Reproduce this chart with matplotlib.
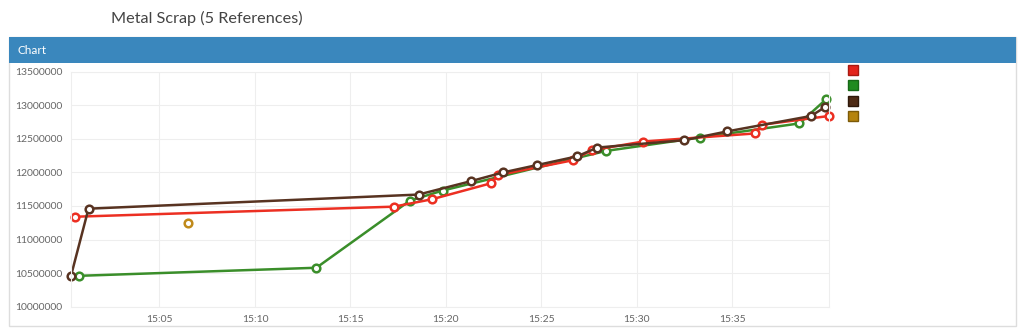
import pandas as pd
import matplotlib
matplotlib.use('Agg')
import matplotlib.pyplot as plt
import matplotlib.dates as mdates
from matplotlib.patches import Rectangle
from matplotlib.lines import Line2D

plt.rcParams['font.family'] = ['Lato', 'DejaVu Sans']

# series (time of day, value)
red_times = ['15:00:35', '15:17:17', '15:19:16', '15:22:23', '15:22:44', '15:26:38',
             '15:27:38', '15:30:20', '15:36:10', '15:36:33', '15:40:03']
red_values = [11340000, 11490000, 11600000, 11840000, 11960000, 12180000,
              12330000, 12460000, 12580000, 12710000, 12840000]

green_times = ['15:00:48', '15:13:13', '15:18:07', '15:19:50', '15:28:23', '15:33:19',
               '15:38:31', '15:39:55']
green_values = [10460000, 10580000, 11580000, 11730000, 12320000, 12520000,
                12730000, 13090000]

brown_times = ['15:00:22', '15:01:17', '15:18:34', '15:21:19', '15:23:00', '15:24:47',
               '15:26:53', '15:27:56', '15:32:29', '15:34:43', '15:39:07', '15:39:51']
brown_values = [10460000, 11460000, 11670000, 11870000, 12000000, 12110000,
                12240000, 12370000, 12480000, 12610000, 12840000, 12970000]

gold_times = ['15:06:29']
gold_values = [11250000]

y_ticks = [10000000, 10500000, 11000000, 11500000, 12000000, 12500000, 13000000, 13500000]
x_ticks = ['15:05', '15:10', '15:15', '15:20', '15:25', '15:30', '15:35']

series = [
    (green_times, green_values, '#3a8e2a', '#1f8b1f', '#166816'),
    (red_times, red_values, '#ec2f22', '#e3241b', '#a81a12'),
    (brown_times, brown_values, '#583321', '#4e2a14', '#2e180a'),
    (gold_times, gold_values, '#c08a1a', '#b5840f', '#7c5a08'),
]


def to_dt(times):
    return pd.to_datetime(['2020-01-01 ' + t for t in times])


W, H = 1024, 333
fig = plt.figure(figsize=(W / 100, H / 100), dpi=100)

# panel frame and blue header bar
fig.patches.append(Rectangle((9 / W, 1 - 326 / H), 1007 / W, 289 / H, transform=fig.transFigure,
                             facecolor='none', edgecolor='#dddddd', lw=1, zorder=0))
fig.patches.append(Rectangle((9 / W, 1 - 63 / H), 1007 / W, 26 / H, transform=fig.transFigure,
                             facecolor='#3a87bd', edgecolor='none', zorder=1))
fig.text(18 / W, 1 - 50 / H, 'Chart', color='white', fontsize=8.5, va='center', ha='left')
fig.text(207 / W, 1 - 18 / H, 'Metal Scrap (5 References)', color='#444444', fontsize=11.7,
         va='center', ha='center')

ax = fig.add_axes([71 / W, 1 - 306.7 / H, 757.7 / W, 235 / H])
ax.set_facecolor('none')
all_times = []
for times, values, color, _, _ in series:
    dts = to_dt(times)
    all_times.extend(dts)
    ax.plot(dts, values, color=color, lw=1.8, marker='o', markersize=5.5,
            markerfacecolor='white', markeredgecolor=color, markeredgewidth=1.8, clip_on=False)

ax.set_xlim(min(all_times), max(all_times))
ax.set_ylim(y_ticks[0], y_ticks[-1])
ax.set_yticks(y_ticks)
ax.set_yticklabels([str(v) for v in y_ticks])
ax.set_xticks(to_dt([t + ':00' for t in x_ticks]))
ax.xaxis.set_major_formatter(mdates.DateFormatter('%H:%M'))
ax.tick_params(length=0, labelsize=7.5, labelcolor='#666666', pad=6)
ax.grid(True, color='#eeeeee', lw=0.8)
ax.set_axisbelow(True)
for s in ax.spines.values():
    s.set_color('#eeeeee')
    s.set_linewidth(0.8)

handles = [Line2D([], [], linestyle='', marker='s', markersize=7.5, markerfacecolor=fc,
                  markeredgecolor=ec, markeredgewidth=1) for _, _, _, fc, ec in
           [series[1], series[0], series[2], series[3]]]
fig.legend(handles, ['', '', '', ''], loc='upper left', bbox_to_anchor=(849 / W, 1 - 65 / H),
           frameon=False, handlelength=0.8, handletextpad=0, labelspacing=0.38,
           borderaxespad=0, borderpad=0, fontsize=8)

fig.savefig('out.png', dpi=100)
